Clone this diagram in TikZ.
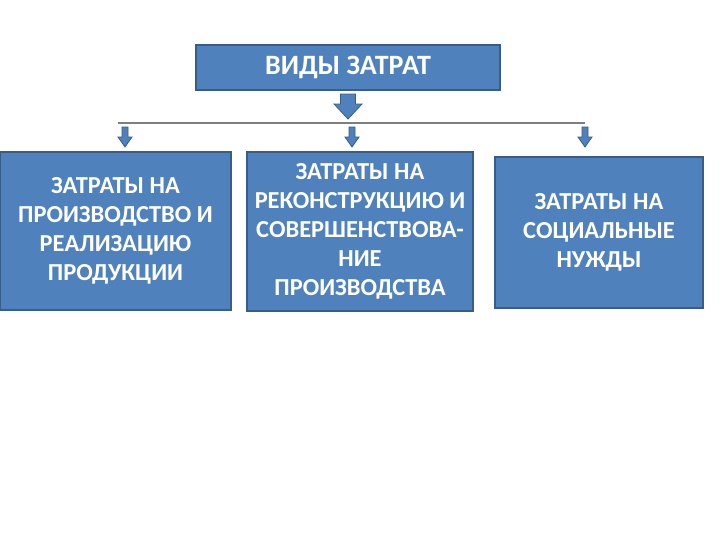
\documentclass[tikz,border=0pt]{standalone}
\usepackage{fontspec}
\setmainfont{Carlito}
\definecolor{boxfill}{HTML}{4F81BD}
\definecolor{boxedge}{HTML}{385D8A}
\definecolor{linegray}{HTML}{7F7F7F}
\tikzset{
  box/.style={draw=boxedge, line width=1.2pt, fill=boxfill, text=white, font=\bfseries\fontsize{18.3}{21.75}\selectfont, align=center, inner sep=0pt},
  topbox/.style={box, font=\bfseries\fontsize{21}{24}\selectfont},
  blockarrow/.style={draw=boxedge, line width=0.6pt, fill=boxfill}
}
\begin{document}
\begin{tikzpicture}[x=0.75pt,y=-0.75pt]
\useasboundingbox[fill=white] (0,0) rectangle (720,540);
% boxes
\node[topbox, minimum width=228pt, minimum height=33.75pt] (top) at (348,67.5) {ВИДЫ ЗАТРАТ};
\node[box, minimum width=173.25pt, minimum height=118.5pt] (b1) at (115.5,231) {ЗАТРАТЫ НА\\ПРОИЗВОДСТВО И\\РЕАЛИЗАЦИЮ\\ПРОДУКЦИИ};
\node[box, minimum width=169.5pt, minimum height=119.25pt] (b2) at (360,231.5) {ЗАТРАТЫ НА\\РЕКОНСТРУКЦИЮ И\\СОВЕРШЕНСТВОВА-\\НИЕ\\ПРОИЗВОДСТВА};
\node[box, minimum width=156pt, minimum height=113.25pt] (b3) at (599,232.5) {ЗАТРАТЫ НА\\СОЦИАЛЬНЫЕ\\НУЖДЫ};
% horizontal line
\coordinate (lineL) at (118,123);
\coordinate (lineR) at (585,123);
\draw[linegray, line width=0.9pt] (lineL) -- (lineR);
% big arrow
\draw[blockarrow] (340.5,94) -- (355.5,94) -- (355.5,104) -- (362,104) -- (348,119) -- (334,104) -- (340.5,104) -- cycle;
% small arrows
\foreach \cx in {125,352,585}{
  \draw[blockarrow] (\cx-3,127) -- (\cx+3,127) -- (\cx+3,137) -- (\cx+7,137) -- (\cx,147) -- (\cx-7,137) -- (\cx-3,137) -- cycle;
}
\end{tikzpicture}
\end{document}
